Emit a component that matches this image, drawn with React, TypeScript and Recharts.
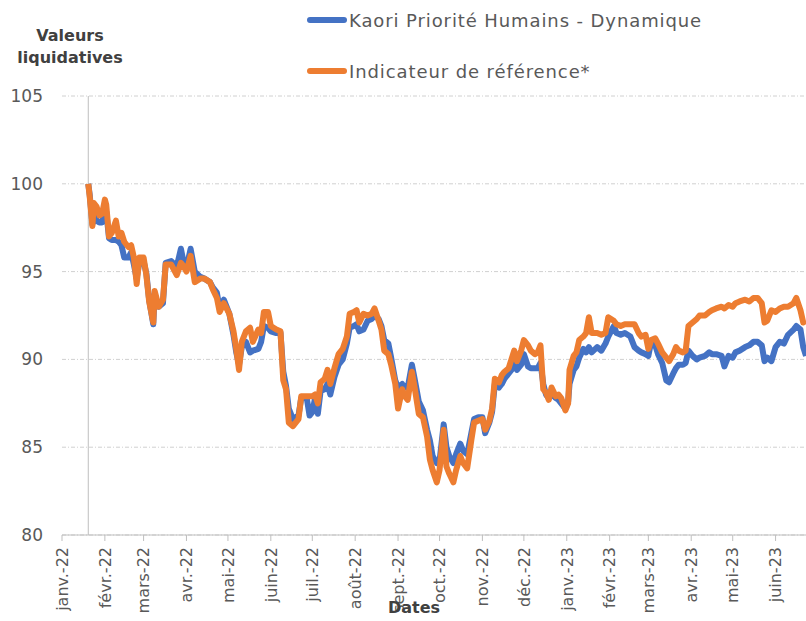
import React from "react";
import {
  LineChart,
  Line,
  XAxis,
  YAxis,
  CartesianGrid,
  ReferenceLine,
  Legend,
} from "recharts";

const dates = [
  "2022-01-20", "2022-01-21", "2022-01-23", "2022-01-24", "2022-01-26", "2022-01-28", "2022-01-30",
  "2022-02-01", "2022-02-02", "2022-02-04", "2022-02-06", "2022-02-09", "2022-02-11", "2022-02-13",
  "2022-02-15", "2022-02-18", "2022-02-20", "2022-02-22", "2022-02-24", "2022-02-26",
  "2022-03-01", "2022-03-03", "2022-03-05", "2022-03-08", "2022-03-09", "2022-03-12", "2022-03-15",
  "2022-03-17", "2022-03-21", "2022-03-25", "2022-03-28", "2022-03-30",
  "2022-04-01", "2022-04-04", "2022-04-07", "2022-04-11", "2022-04-14", "2022-04-18", "2022-04-20",
  "2022-04-23", "2022-04-25", "2022-04-28", "2022-04-30",
  "2022-05-02", "2022-05-05", "2022-05-07", "2022-05-09", "2022-05-11", "2022-05-14", "2022-05-17",
  "2022-05-19", "2022-05-23", "2022-05-25", "2022-05-27", "2022-05-30",
  "2022-06-01", "2022-06-05", "2022-06-08", "2022-06-10", "2022-06-12", "2022-06-14", "2022-06-17",
  "2022-06-21", "2022-06-23", "2022-06-27", "2022-06-29",
  "2022-07-01", "2022-07-03", "2022-07-05", "2022-07-07", "2022-07-10", "2022-07-12", "2022-07-14",
  "2022-07-17", "2022-07-20", "2022-07-23", "2022-07-26", "2022-07-28", "2022-07-31",
  "2022-08-02", "2022-08-04", "2022-08-07", "2022-08-10", "2022-08-13", "2022-08-15", "2022-08-18",
  "2022-08-20", "2022-08-22", "2022-08-25", "2022-08-27", "2022-08-30",
  "2022-09-01", "2022-09-04", "2022-09-06", "2022-09-08", "2022-09-11", "2022-09-13", "2022-09-16",
  "2022-09-19", "2022-09-22", "2022-09-24", "2022-09-26", "2022-09-29",
  "2022-10-01", "2022-10-04", "2022-10-06", "2022-10-08", "2022-10-11", "2022-10-13", "2022-10-16",
  "2022-10-18", "2022-10-21", "2022-10-24", "2022-10-26", "2022-10-29",
  "2022-11-01", "2022-11-03", "2022-11-06", "2022-11-08", "2022-11-10", "2022-11-13", "2022-11-15",
  "2022-11-17", "2022-11-20", "2022-11-22", "2022-11-24", "2022-11-26", "2022-11-29",
  "2022-12-01", "2022-12-04", "2022-12-06", "2022-12-09", "2022-12-11", "2022-12-13", "2022-12-15",
  "2022-12-17", "2022-12-19", "2022-12-21", "2022-12-24", "2022-12-26", "2022-12-28", "2022-12-31",
  "2023-01-02", "2023-01-03", "2023-01-06", "2023-01-08", "2023-01-10", "2023-01-13", "2023-01-15",
  "2023-01-17", "2023-01-19", "2023-01-23", "2023-01-26", "2023-01-29", "2023-01-31",
  "2023-02-04", "2023-02-06", "2023-02-09", "2023-02-12", "2023-02-16", "2023-02-19", "2023-02-22",
  "2023-02-24", "2023-02-27",
  "2023-03-01", "2023-03-03", "2023-03-06", "2023-03-08", "2023-03-11", "2023-03-14", "2023-03-16",
  "2023-03-19", "2023-03-21", "2023-03-23", "2023-03-26", "2023-03-28", "2023-03-30",
  "2023-04-02", "2023-04-05", "2023-04-07", "2023-04-11", "2023-04-14", "2023-04-16", "2023-04-19",
  "2023-04-23", "2023-04-25", "2023-04-28",
  "2023-05-01", "2023-05-03", "2023-05-06", "2023-05-10", "2023-05-13", "2023-05-16", "2023-05-19",
  "2023-05-22", "2023-05-24", "2023-05-26", "2023-05-29",
  "2023-06-01", "2023-06-04", "2023-06-07", "2023-06-10", "2023-06-14", "2023-06-16", "2023-06-19",
  "2023-06-21", "2023-06-23",
];

// Kaori Priorité Humains - Dynamique
const kaori = [
  100.0, 99.4, 97.7, 98.6, 97.9, 97.8, 97.8,
  98.6, 98.4, 96.9, 96.8, 96.8, 96.7, 96.5,
  95.8, 95.8, 96.1, 95.4, 94.6, 95.6,
  95.6, 94.9, 93.4, 92.0, 93.7, 93.0, 93.2,
  95.5, 95.6, 95.3, 96.3, 95.5,
  95.2, 96.3, 95.0, 94.7, 94.6, 94.4, 94.1,
  93.8, 92.9, 93.4, 93.0,
  92.6, 91.4, 90.4, 89.7, 90.7, 91.0, 90.4,
  90.5, 90.6, 91.0, 91.9, 91.8,
  91.6, 91.5, 91.5, 89.3, 88.5, 87.2, 86.6,
  86.8, 87.8, 87.8, 86.8,
  87.0, 87.8, 86.9, 88.2, 88.3, 88.6, 88.0,
  89.0, 89.7, 90.0, 90.9, 91.8, 91.9,
  92.0, 91.6, 91.7, 92.2, 92.3, 92.5, 92.3,
  91.9, 91.1, 90.9, 90.1, 88.8,
  88.4, 88.6, 88.4, 88.4, 89.7, 88.9, 87.6,
  87.1, 86.0, 85.4, 84.5, 84.1,
  84.2, 86.3, 85.0, 84.5, 84.1, 84.6, 85.2,
  84.8, 84.6, 85.8, 86.6, 86.7,
  86.7, 85.8, 86.4, 87.0, 88.6, 88.4, 88.6,
  88.9, 89.2, 89.4, 89.8, 89.4, 89.7,
  90.3, 89.6, 89.5, 89.5, 89.5, 89.8, 88.6,
  88.0, 87.8, 88.1, 87.8, 87.7, 87.5, 87.2,
  87.6, 88.6, 89.4, 89.6, 90.1, 90.6, 90.4,
  90.7, 90.4, 90.7, 90.5, 90.9, 91.3,
  91.9, 91.5, 91.4, 91.5, 91.3, 90.7, 90.5,
  90.4, 90.3,
  90.2, 91.0, 90.8, 90.3, 89.8, 88.8, 88.7,
  89.2, 89.5, 89.7, 89.7, 89.8, 90.5,
  90.2, 90.0, 90.1, 90.2, 90.4, 90.3, 90.3,
  90.2, 89.6, 90.2,
  90.1, 90.4, 90.5, 90.7, 90.8, 91.0, 91.0,
  90.8, 89.9, 90.1, 89.9,
  90.7, 91.0, 90.9, 91.4, 91.7, 91.9, 91.7,
  90.7, 90.2,
];

// Indicateur de référence*
const indicateur = [
  100.0, 99.3, 97.6, 98.9, 98.7, 98.2, 98.3,
  99.1, 98.8, 97.0, 97.2, 97.9, 97.0, 97.2,
  96.7, 96.4, 96.5, 95.8, 94.3, 95.8,
  95.8, 94.8, 93.3, 92.1, 93.9, 93.0, 93.4,
  95.4, 95.4, 94.8, 95.5, 95.3,
  95.0, 95.9, 94.4, 94.6, 94.6, 94.4, 94.0,
  93.5, 92.7, 93.2, 92.9,
  92.6, 91.6, 90.6, 89.4, 91.0, 91.6, 91.8,
  91.0, 91.7, 91.5, 92.7, 92.7,
  91.9, 91.7, 91.6, 88.8, 88.3, 86.4, 86.2,
  86.6, 87.9, 87.9, 87.9,
  87.9, 88.0, 87.5, 88.7, 88.9, 89.4, 88.6,
  89.5, 90.3, 90.6, 91.3, 92.6, 92.7,
  92.8, 92.1, 92.6, 92.5, 92.6, 92.9, 92.2,
  91.7, 90.5, 90.3, 89.7, 88.6,
  87.2, 88.3, 87.9, 87.7, 89.3, 88.4, 86.9,
  86.7, 85.6, 84.3, 83.7, 83.0,
  83.7, 86.0, 83.9, 83.5, 83.0, 83.7, 84.5,
  84.1, 83.8, 85.4, 86.4, 86.5,
  86.6, 86.0, 86.5, 87.2, 88.9, 88.7, 89.1,
  89.3, 89.5, 90.0, 90.5, 89.9, 90.5,
  91.1, 90.8, 90.5, 90.3, 90.4, 90.8, 88.3,
  88.1, 87.7, 88.4, 87.9, 88.0, 87.8, 87.1,
  87.5, 89.4, 90.2, 90.4, 91.1, 91.3, 91.5,
  92.4, 91.5, 91.5, 91.4, 91.5, 92.4,
  92.2, 92.0, 91.9, 92.0, 92.0, 92.0, 91.5,
  91.3, 91.4,
  90.6, 91.1, 91.2, 90.9, 90.4, 90.1, 89.9,
  90.3, 90.7, 90.5, 90.4, 90.5, 91.9,
  92.1, 92.3, 92.5, 92.5, 92.7, 92.8, 92.9,
  93.0, 92.9, 93.1,
  93.0, 93.2, 93.3, 93.4, 93.3, 93.5, 93.5,
  93.2, 92.1, 92.2, 92.8,
  92.7, 92.9, 93.0, 93.0, 93.2, 93.5, 92.8,
  92.1, 92.2,
];

const seriesNames = ["Kaori Priorité Humains - Dynamique", "Indicateur de référence*"];

const monthTicks = [
  "2022-01-01", "2022-02-01", "2022-03-01", "2022-04-01", "2022-05-01", "2022-06-01",
  "2022-07-01", "2022-08-01", "2022-09-01", "2022-10-01", "2022-11-01", "2022-12-01",
  "2023-01-01", "2023-02-01", "2023-03-01", "2023-04-01", "2023-05-01", "2023-06-01",
];
const monthLabels = [
  "janv.-22", "févr.-22", "mars-22", "avr.-22", "mai-22", "juin-22",
  "juil.-22", "août-22", "sept.-22", "oct.-22", "nov.-22", "déc.-22",
  "janv.-23", "févr.-23", "mars-23", "avr.-23", "mai-23", "juin-23",
];
const yTicks = [80, 85, 90, 95, 100, 105];
const domainStart = "2022-01-01";
const domainEnd = "2023-06-23";

const toTime = (iso: string) => Date.parse(iso + "T00:00:00Z");

const data = dates.map((d, i) => ({
  t: toTime(d),
  kaori: kaori[i],
  indicateur: indicateur[i],
}));

const tickTimes = monthTicks.map(toTime);

const FONT = "'DejaVu Sans', sans-serif";
const BLUE = "#4472C4";
const ORANGE = "#ED7D31";
const AXIS = "#BFBFBF";

function MonthTick({ x, y, payload }: any) {
  const idx = tickTimes.indexOf(payload.value);
  return (
    <g transform={`translate(${x},${y})`}>
      <text
        x={0}
        y={0}
        dy="0.36em"
        textAnchor="end"
        transform="rotate(-90)"
        fill="#595959"
        fontSize={16}
        fontFamily={FONT}
      >
        {monthLabels[idx]}
      </text>
    </g>
  );
}

function LegendBox() {
  const colors = [BLUE, ORANGE];
  const tops = [8, 59];
  return (
    <div style={{ position: "relative", width: 490, height: 90 }}>
      {seriesNames.map((name, i) => (
        <div
          key={name}
          style={{
            position: "absolute",
            left: 0,
            top: tops[i],
            height: 24,
            display: "flex",
            alignItems: "center",
            whiteSpace: "nowrap",
          }}
        >
          <span
            style={{
              display: "inline-block",
              width: 40,
              height: 6,
              borderRadius: 3,
              background: colors[i],
            }}
          />
          <span
            style={{
              marginLeft: 2,
              fontFamily: FONT,
              fontSize: 18,
              letterSpacing: 0.9,
              color: "#595959",
            }}
          >
            {name}
          </span>
        </div>
      ))}
    </div>
  );
}

export default function App() {
  return (
    <div
      style={{
        position: "absolute",
        left: 0,
        top: 0,
        width: 806,
        height: 621,
        overflow: "hidden",
        background: "#fff",
      }}
    >
      <LineChart
        width={806}
        height={621}
        data={data}
        margin={{ top: 96, right: 0, bottom: 0, left: 0 }}
      >
        <CartesianGrid
          horizontal
          vertical={false}
          stroke="#D0D0D0"
          strokeDasharray="4 2 1 2"
        />
        <XAxis
          dataKey="t"
          type="number"
          scale="time"
          domain={[toTime(domainStart), toTime(domainEnd)]}
          ticks={tickTimes}
          height={86}
          interval={0}
          stroke={AXIS}
          tickSize={6}
          tickMargin={6}
          tick={<MonthTick />}
        />
        <YAxis
          type="number"
          domain={[80, 105]}
          ticks={yTicks}
          width={62}
          axisLine={false}
          tickLine={false}
          tickMargin={13}
          tick={{ fill: "#595959", fontSize: 17, fontFamily: FONT }}
        />
        <ReferenceLine x={data[0].t} stroke={AXIS} strokeWidth={1} />
        <Legend
          layout="vertical"
          align="center"
          verticalAlign="middle"
          wrapperStyle={{ top: 0, left: 307, width: 490, height: 90 }}
          content={<LegendBox />}
        />
        <Line
          type="linear"
          dataKey="kaori"
          name={seriesNames[0]}
          stroke={BLUE}
          strokeWidth={6}
          strokeLinejoin="round"
          dot={false}
          isAnimationActive={false}
        />
        <Line
          type="linear"
          dataKey="indicateur"
          name={seriesNames[1]}
          stroke={ORANGE}
          strokeWidth={6}
          strokeLinejoin="round"
          dot={false}
          isAnimationActive={false}
        />
      </LineChart>
      <div
        style={{
          position: "absolute",
          left: 0,
          top: 25,
          width: 140,
          textAlign: "center",
          fontFamily: FONT,
          fontWeight: 700,
          fontSize: 16,
          lineHeight: "22px",
          color: "#404040",
        }}
      >
        Valeurs
        <br />
        liquidatives
      </div>
      <div
        style={{
          position: "absolute",
          left: 364,
          top: 598,
          width: 100,
          textAlign: "center",
          fontFamily: FONT,
          fontWeight: 700,
          fontSize: 16,
          lineHeight: "20px",
          color: "#404040",
        }}
      >
        Dates
      </div>
    </div>
  );
}
